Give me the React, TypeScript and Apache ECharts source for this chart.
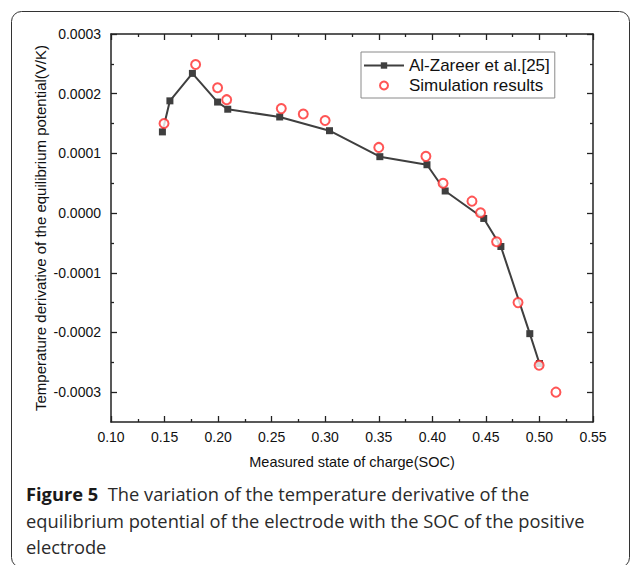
import React, { useEffect, useRef } from "react";
import * as echarts from "echarts";

const alX = [0.148, 0.155, 0.176, 0.1995, 0.209, 0.2575, 0.304, 0.351, 0.395, 0.412, 0.448, 0.464, 0.491, 0.5];
const alY = [0.000136, 0.000188, 0.000234, 0.000186, 0.000174, 0.000161, 0.000138, 0.0000945, 0.000081, 0.000037, -0.000009, -0.000056, -0.000202, -0.000252];

const simX = [0.1495, 0.179, 0.1995, 0.208, 0.259, 0.2795, 0.2999, 0.35, 0.394, 0.41, 0.437, 0.445, 0.46, 0.48, 0.4997, 0.5154];
const simY = [0.00015, 0.000249, 0.00021, 0.00019, 0.000175, 0.000166, 0.000155, 0.00011, 0.000095, 0.00005, 0.00002, 0.0000005, -0.000048, -0.00015, -0.000255, -0.0003];

const yMajorTicks = [-0.0003, -0.0002, -0.0001, 0, 0.0001, 0.0002, 0.0003];
const yMinorTicks = [-0.00025, -0.00015, -0.00005, 0.00005, 0.00015, 0.00025];

const seriesNames = ["Al-Zareer et al.[25]", "Simulation results"];
const xTitle = "Measured state of charge(SOC)";
const yTitle = "Temperature derivative of the equilibrium potential(V/K)";
const captionLines = [
  "The variation of the temperature derivative of the",
  "equilibrium potential of the electrode with the SOC of the positive",
  "electrode",
];

const FONT = "'Liberation Sans', Arial, sans-serif";
const CAP_FONT = "'Open Sans', 'Noto Sans', sans-serif";
const CAP_SIZE = 18.3;
const AX = "#222";

export default function App() {
  const ref = useRef<HTMLDivElement>(null);
  useEffect(() => {
    document.body.style.margin = "0";
    const chart = echarts.init(ref.current!, undefined, { renderer: "svg" });
    const yBase = {
      type: "value",
      min: -0.00035,
      max: 0.0003,
      splitLine: { show: false },
    };
    const xBase = {
      type: "value",
      min: 0.1,
      max: 0.55,
      interval: 0.05,
      splitLine: { show: false },
    };
    chart.setOption({
      animation: false,
      backgroundColor: "#fff",
      grid: { left: 111, top: 34, right: 37, bottom: 143, containLabel: false },
      legend: {
        orient: "vertical",
        left: 361,
        top: 52,
        padding: [5, 5, 4, 2],
        itemWidth: 40,
        itemHeight: 8,
        itemGap: 3,
        borderColor: "#8a8a8a",
        borderWidth: 1,
        textStyle: { fontSize: 17, fontFamily: FONT, color: "#111" },
        data: seriesNames,
      },
      xAxis: [
        {
          ...xBase,
          position: "bottom",
          name: xTitle,
          nameLocation: "middle",
          nameGap: 32,
          nameTextStyle: { fontSize: 14.5, fontFamily: FONT, color: "#111" },
          axisLine: { show: true, onZero: false, lineStyle: { color: AX, width: 1.5 } },
          axisTick: { show: true, inside: true, length: 6, lineStyle: { color: AX, width: 1.3 } },
          minorTick: { show: true, splitNumber: 2, length: 3, lineStyle: { color: AX, width: 1.3 } },
          axisLabel: {
            margin: 8,
            fontSize: 14,
            fontFamily: FONT,
            color: "#111",
            formatter: (v: number) => v.toFixed(2),
          },
        },
        {
          ...xBase,
          position: "top",
          axisLine: { show: true, onZero: false, lineStyle: { color: AX, width: 1.5 } },
          axisTick: { show: true, inside: true, length: 6, lineStyle: { color: AX, width: 1.3 } },
          minorTick: { show: true, splitNumber: 2, length: 3, lineStyle: { color: AX, width: 1.3 } },
          axisLabel: { show: false },
        },
      ],
      yAxis: [
        {
          ...yBase,
          position: "left",
          name: yTitle,
          nameLocation: "middle",
          nameGap: 63,
          nameMoveOverlap: false,
          nameTextStyle: { fontSize: 15, fontFamily: FONT, color: "#111" },
          axisLine: { show: true, onZero: false, lineStyle: { color: AX, width: 1.5 } },
          axisTick: { show: true, inside: true, length: 6, customValues: yMajorTicks, lineStyle: { color: AX, width: 1.3 } },
          axisLabel: {
            margin: 10,
            fontSize: 14,
            fontFamily: FONT,
            color: "#111",
            customValues: yMajorTicks,
            formatter: (v: number) => v.toFixed(4),
          },
        },
        {
          ...yBase,
          position: "left",
          axisLine: { show: false },
          axisTick: { show: true, inside: true, length: 3, customValues: yMinorTicks, lineStyle: { color: AX, width: 1.3 } },
          axisLabel: { show: false },
        },
        {
          ...yBase,
          position: "right",
          axisLine: { show: true, onZero: false, lineStyle: { color: AX, width: 1.5 } },
          axisTick: { show: true, inside: true, length: 6, customValues: yMajorTicks, lineStyle: { color: AX, width: 1.3 } },
          axisLabel: { show: false },
        },
        {
          ...yBase,
          position: "right",
          axisLine: { show: false },
          axisTick: { show: true, inside: true, length: 3, customValues: yMinorTicks, lineStyle: { color: AX, width: 1.3 } },
          axisLabel: { show: false },
        },
      ],
      series: [
        {
          name: seriesNames[0],
          type: "line",
          xAxisIndex: 0,
          yAxisIndex: 0,
          data: alX.map((x, i) => [x, alY[i]]),
          symbol: "rect",
          symbolSize: 7,
          showAllSymbol: true,
          lineStyle: { color: "#3f3f3f", width: 2 },
          itemStyle: { color: "#3f3f3f" },
          z: 2,
        },
        {
          name: seriesNames[1],
          type: "scatter",
          xAxisIndex: 0,
          yAxisIndex: 0,
          data: simX.map((x, i) => [x, simY[i]]),
          symbol: "emptyCircle",
          symbolSize: 9,
          itemStyle: { color: "#ff2a2a", borderColor: "#ff2a2a", borderWidth: 1.8 },
          z: 3,
        },
      ],
      graphic: [
        {
          type: "rect",
          silent: true,
          shape: { x: 11.5, y: 11.5, width: 618, height: 556, r: 10 },
          style: { fill: "none", stroke: "#333", lineWidth: 1 },
          z: -10,
        },
        {
          type: "text",
          left: 26,
          top: 484,
          style: {
            text: "{b|Figure 5}  " + captionLines[0],
            fontSize: CAP_SIZE,
            fontFamily: CAP_FONT,
            fill: "#2a2a2a",
            rich: { b: { fontWeight: "bold", fontSize: CAP_SIZE, fontFamily: CAP_FONT, fill: "#1a1a1a" } },
          },
        },
        {
          type: "text",
          left: 26,
          top: 511,
          style: { text: captionLines[1], fontSize: CAP_SIZE, fontFamily: CAP_FONT, fill: "#2a2a2a" },
        },
        {
          type: "text",
          left: 26,
          top: 537,
          style: { text: captionLines[2], fontSize: CAP_SIZE, fontFamily: CAP_FONT, fill: "#2a2a2a" },
        },
      ],
    });
    return () => chart.dispose();
  }, []);
  return <div ref={ref} style={{ width: 630, height: 565 }} />;
}
